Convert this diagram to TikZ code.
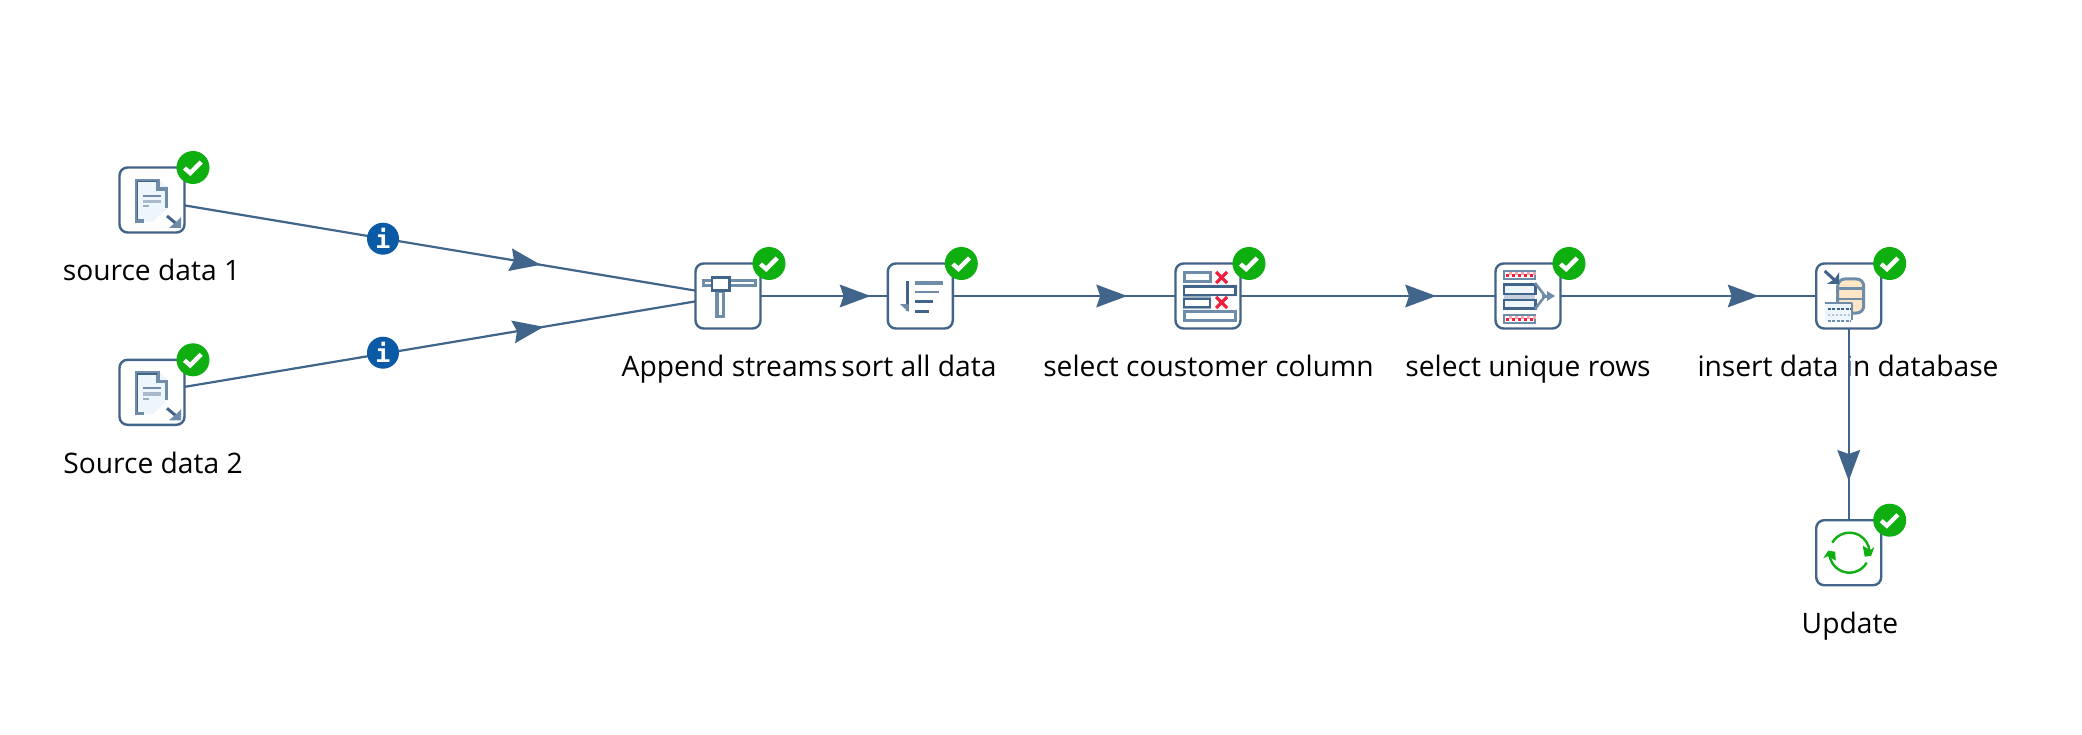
\documentclass[tikz,border=0pt]{standalone}
\usepackage{fontspec}
\setmainfont{Open Sans}
\newfontfamily\infofont{DejaVu Sans Mono}[BoldFont={* Bold}]
\usetikzlibrary{decorations.markings}
\definecolor{linecol}{HTML}{41658A}
\definecolor{iconcol}{HTML}{6F8DA8}
\definecolor{icondark}{HTML}{41658A}
\definecolor{iconpale}{HTML}{EEF6FD}
\definecolor{okgreen}{HTML}{0FAF12}
\definecolor{infoblue}{HTML}{0A5AA6}
\definecolor{crossred}{HTML}{F0203C}
\definecolor{dbfill}{HTML}{FDE6C6}
\tikzset{
  x=1pt,y=-1pt,
  stepbox/.style={draw=linecol,line width=2.4pt,rounded corners=8pt,fill=white,minimum width=65pt,minimum height=65pt,inner sep=0pt,outer sep=0pt},
  steplabel/.style={anchor=base,inner sep=0pt,font=\fontsize{28.2}{32}\selectfont,text=black},
  okbadge/.style={circle,fill=okgreen,minimum size=33pt,inner sep=0pt,outer sep=0pt},
  infobadge/.style={circle,fill=infoblue,minimum size=32pt,inner sep=0pt,outer sep=0pt,text=white,font=\infofont\bfseries\fontsize{25}{25}\selectfont},
  hop/.style={line width=2.2pt,draw=linecol},
  flow/.style={decoration={markings,mark=at position #1 with {\fill[linecol] (0,0)--(-31,-11.5)--(-27,0)--(-31,11.5)--cycle;}},postaction={decorate}},
  fileicon/.pic={
    \draw[fill=iconpale,draw=none] (-17,-21)--(7,-21)--(16,-12)--(16,8)--(1,22)--(-17,22)--cycle;
    \draw[iconcol,line width=3.6pt] (-8,21)--(-15.5,21)--(-15.5,-19.5)--(6,-19.5)--(6,-11)--(14.5,-11)--(14.5,8);
    \draw[icondark,line width=1.8pt] (-14.5,20)--(-14.5,-18.5)--(5,-18.5);
    \draw[iconcol,line width=2pt] (-9,-4)--(9,-4);
    \draw[iconcol!60,line width=3.6pt] (-9,1.5)--(9,1.5);
    \draw[iconcol!70,line width=2pt] (-9,6.5)--(-3,6.5);
    \draw[icondark,line width=3pt] (15,16)--(27,26);
    \fill[iconcol] (17,28)--(29,28)--(29,17)--(24,22)--cycle;
  },
  appendicon/.pic={
    \draw[iconcol,line width=3.4pt,fill=white] (-24.5,-15.5) rectangle (27.5,-10.5);
    \draw[iconcol,line width=3.4pt,fill=white] (-11,-5) rectangle (-4.5,20.5);
    \draw[icondark,line width=2.6pt,fill=white] (-16,-18.5) rectangle (1.5,-5.5);
  },
  sorticon/.pic={
    \draw[icondark,line width=2.4pt] (-12.7,-15)--(-12.7,15);
    \fill[iconcol] (-20.5,8)--(-11.7,8)--(-11.7,16)--cycle;
    \draw[iconcol,line width=3.8pt] (-5,-13.3)--(22.7,-13.3);
    \draw[iconcol,line width=2.6pt] (-5,-4)--(18.3,-4);
    \draw[icondark,line width=2.6pt] (-5,5.7)--(13,5.7);
    \draw[icondark,line width=2.6pt] (-5,15.7)--(9,15.7);
  },
  selecticon/.pic={
    \fill[iconcol!70] (-25,-11)--(29,-11)--(29,0)--(3,0)--(3,13)--(-25,13)--cycle;
    \draw[iconcol,line width=3pt,fill=white] (-24,-23) rectangle (2,-14);
    \draw[icondark,line width=2.2pt,fill=white] (-24,-9.5) rectangle (27.5,-1);
    \draw[icondark,line width=2.2pt,fill=white] (-24,3) rectangle (2,11);
    \draw[iconcol,line width=3pt,fill=white] (-24,15.5) rectangle (27.5,24);
    \draw[crossred,line width=3.2pt] (8,-24)--(19,-13) (8,-13)--(19,-24);
    \draw[crossred,line width=3.2pt] (8,1)--(19,12) (8,12)--(19,1);
  },
  uniqueicon/.pic={
    \fill[iconcol] (-25,-26) rectangle (8,-15.5);
    \fill[white] (-23,-23.5) rectangle (6,-17.5);
    \foreach \k in {-22,-16,-10,-4,2} {\fill[crossred] (\k,-21.5) rectangle ++(3,3);\fill[crossred!40] (\k+3,-23.5) rectangle ++(3,3);}
    \fill[iconcol] (-25,17.5) rectangle (8,28);
    \fill[white] (-23,20) rectangle (6,26);
    \foreach \k in {-22,-16,-10,-4,2} {\fill[crossred] (\k,22) rectangle ++(3,3);\fill[crossred!40] (\k+3,20) rectangle ++(3,3);}
    \draw[icondark,line width=2.2pt,fill=iconpale] (-24,-11.5) rectangle (7.5,-2);
    \draw[icondark,line width=2.2pt,fill=iconpale] (-24,4) rectangle (7.5,12.5);
    \fill[iconcol!40] (-24,-1) rectangle (7,3);
    \draw[iconcol,line width=2.6pt] (7,-13)--(17,0)--(7,13);
    \draw[iconcol,line width=3pt] (14,0)--(24,0);
    \fill[iconcol] (27,0)--(19,-5)--(19,5)--cycle;
  },
  inserticon/.pic={
    \draw[iconcol,line width=3pt,fill=dbfill,rounded corners=7pt] (-11,-17) rectangle (15,17);
    \draw[iconcol,line width=2.2pt] (-11,-7.5)--(15,-7.5) (-11,3)--(15,3);
    \draw[icondark,line width=3pt] (-24,-25)--(-12,-14);
    \fill[icondark] (-22,-12)--(-9.5,-12)--(-9.5,-24)--(-14,-17)--cycle;
    \fill[iconpale] (-24,6) rectangle (3.5,26);
    \draw[iconcol,line width=2.2pt] (-24,7)--(3.5,7) (3,7)--(3,24);
    \draw[icondark,line width=2pt,dash pattern=on 3pt off 1.5pt] (-21,13)--(2,13);
    \draw[iconcol,line width=2pt,dash pattern=on 3pt off 1.5pt] (-21,25)--(2,25);
    \draw[iconcol!50,line width=1.2pt,dash pattern=on 2pt off 2pt] (-21,19)--(2,19);
  },
  updateicon/.pic={
    \draw[okgreen,line width=2.4pt] (-16.5,-10) arc[start angle=150,end angle=3,radius=20pt];
    \fill[okgreen] (22.5,3)--(25.5,-5.5)--(21.5,-2.5)--(14,-7)--(16,4)--cycle;
    \draw[okgreen,line width=2.4pt] (18,10) arc[start angle=-30,end angle=-175,radius=20pt];
    \fill[okgreen] (-20.5,-2)--(-25.5,5.5)--(-21,3.5)--(-13,8)--(-13.5,-1)--cycle;
  },
  checkmark/.pic={
    \draw[white,line width=4.4pt,line cap=butt,line join=miter] (-8.5,0.5)--(-2.8,5.5)--(8.2,-5.5);
  },
}
\begin{document}
\begin{tikzpicture}
\path[use as bounding box,fill=white] (0,0) rectangle (2082,735);

% labels (the vertical hop runs over its label)
\node[steplabel] (l1) at (151.5,280) {source data 1};
\node[steplabel] (l2) at (153,473.5) {Source data 2};
\node[steplabel] (l3) at (729.5,376.5) {Append streams};
\node[steplabel] (l4) at (919,376.5) {sort all data};
\node[steplabel] (l5) at (1208.5,376.5) {select coustomer column};
\node[steplabel] (l6) at (1528,376.5) {select unique rows};
\node[steplabel] (l7) at (1848,376.5) {insert data in database};
\node[steplabel] (l8) at (1850,633) {Update};

% step boxes
\node[stepbox] (src1) at (152,200) {};
\node[stepbox] (src2) at (152,392.3) {};
\node[stepbox] (app) at (728,296) {};
\node[stepbox] (srt) at (920.3,296) {};
\node[stepbox] (sel) at (1208,296) {};
\node[stepbox] (unq) at (1528,296) {};
\node[stepbox] (ins) at (1848.7,296) {};
\node[stepbox] (upd) at (1848.7,552.7) {};

% hops
\draw[hop,flow=0.697] (src1) -- (app);
\draw[hop,flow=0.703] (src2) -- (app);
\draw[hop,flow=0.865] (app) -- (srt);
\draw[hop,flow=0.783] (srt) -- (sel);
\draw[hop,flow=0.767] (sel) -- (unq);
\draw[hop,flow=0.775] (unq) -- (ins);
\draw[hop,flow=0.795] (ins) -- (upd);

% info badges on the two incoming hops
\node[infobadge] (i1) at (383,238.7) {i};
\node[infobadge] (i2) at (383,352.7) {i};

% icons
\path (src1.center) pic {fileicon};
\path (src2.center) pic {fileicon};
\path (app.center) pic {appendicon};
\path (srt.center) pic {sorticon};
\path (sel.center) pic {selecticon};
\path (unq.center) pic {uniqueicon};
\path (ins.center) pic {inserticon};
\path (upd.center) pic {updateicon};

% status badges
\foreach \n in {src1,src2,app,srt,sel,unq,ins,upd} {
  \node[okbadge] (ok\n) at ([xshift=8.5pt]\n.north east) {};
  \path (ok\n.center) pic {checkmark};
}
\end{tikzpicture}
\end{document}
